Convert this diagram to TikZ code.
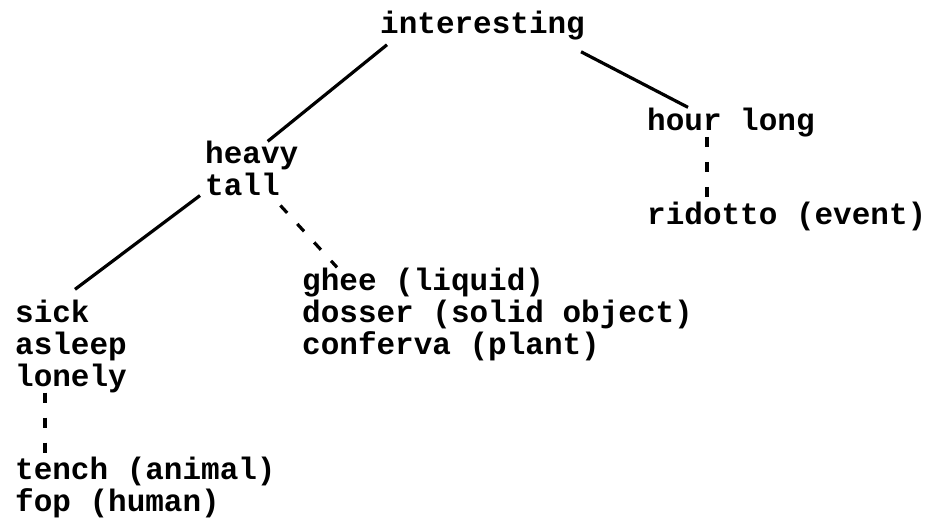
\documentclass[tikz,border=0pt]{standalone}
\usepackage{fontspec}
\setmainfont{Liberation Mono}
\usepackage{tikz}
\usetikzlibrary{positioning}

\begin{document}
\begin{tikzpicture}[
  x=1pt,y=-1pt,
  font=\fontsize{31}{32}\selectfont\bfseries,
  w/.style={anchor=base west,inner sep=0pt,align=left},
  ln/.style={line width=3.2pt},
  dln/.style={line width=3.2pt,dash pattern=on 10pt off 15pt}
]
\useasboundingbox (0,0) rectangle (935,520);
\node[w] (interesting) at (380,33) {interesting};
\node[w] (heavy) at (205,195) {heavy\\tall};
\node[w] (hour) at (647,130) {hour long};
\node[w] (ridotto) at (647,224) {ridotto (event)};
\node[w] (sick) at (15,386) {sick\\asleep\\lonely};
\node[w] (ghee) at (302,354) {ghee (liquid)\\dosser (solid object)\\conferva (plant)};
\node[w] (tench) at (15,511) {tench (animal)\\fop (human)};
\draw[ln] ([xshift=7pt,yshift=-5pt]interesting.south west) -- ([xshift=16pt,yshift=-1pt]heavy.north);
\draw[ln] ([xshift=-4pt,yshift=-12pt]interesting.south east) -- ([xshift=41pt]hour.north west);
\draw[ln] ([xshift=-5pt]heavy.south west) -- ([xshift=60pt,yshift=10pt]sick.north west);
\draw[dln] ([xshift=-18pt,yshift=-10pt]heavy.south east) -- ([xshift=35pt]ghee.north west);
\draw[dln] ([xshift=30pt]sick.south west) -- ([xshift=30pt]tench.north west);
\draw[dln] ([xshift=60pt]hour.south west) -- ([xshift=60pt,yshift=3pt]ridotto.north west);
\end{tikzpicture}
\end{document}
